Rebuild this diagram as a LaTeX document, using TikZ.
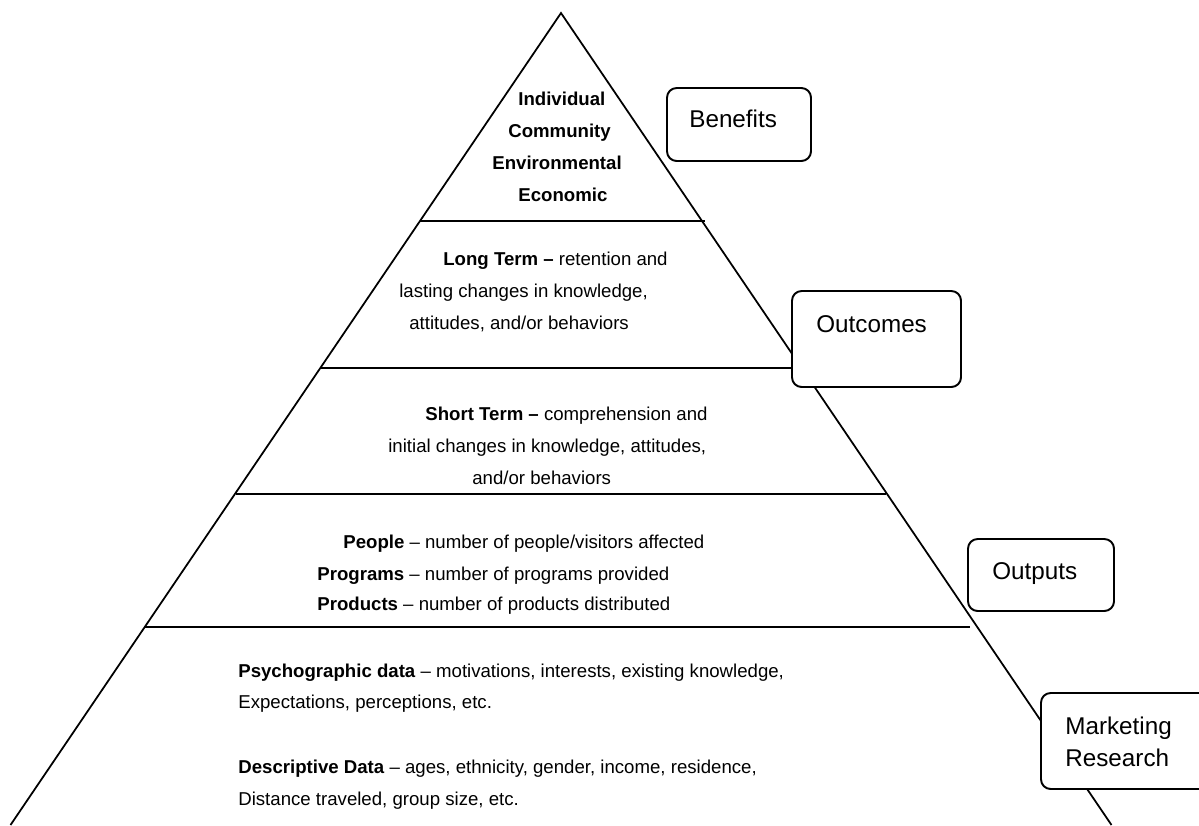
\documentclass[tikz,border=0pt]{standalone}
\usepackage{fontspec}
\setmainfont{Liberation Sans}
\usetikzlibrary{fit}
\begin{document}
\begin{tikzpicture}[x=0.02cm,y=-0.02cm,
  edge/.style={line width=1pt},
  tier/.style={font=\fontsize{10.6}{12}\selectfont, anchor=base west, inner sep=0pt},
  boxst/.style={draw, line width=1.1pt, rounded corners=5.5pt, fill=white, inner sep=0pt},
  lbl/.style={font=\fontsize{13.8}{16}\selectfont, anchor=base west, inner sep=0pt}]
\clip (0,0) rectangle (1199,825);
\fill[white] (0,0) rectangle (1199,825);
% pyramid
\coordinate (apex) at (561,13);
\coordinate (bl) at (10.5,825);
\coordinate (br) at (1111.5,825);
\draw[edge] (bl) -- (apex) -- (br);
\coordinate (l1a) at (420,221); \coordinate (l1b) at (705,221);
\coordinate (l2a) at (320,368); \coordinate (l2b) at (795,368);
\coordinate (l3a) at (236,494); \coordinate (l3b) at (886,494);
\coordinate (l4a) at (145,627); \coordinate (l4b) at (970,627);
\draw[edge] (l1a) -- (l1b);
\draw[edge] (l2a) -- (l2b);
\draw[edge] (l3a) -- (l3b);
\draw[edge] (l4a) -- (l4b);
% tier texts
\node[tier] (t1a) at (518,105) {\textbf{Individual}};
\node[tier] (t1b) at (508,137) {\textbf{Community}};
\node[tier] (t1c) at (492,169) {\textbf{Environmental}};
\node[tier] (t1d) at (518,201) {\textbf{Economic}};
\node[tier] (t2a) at (443,265) {\textbf{Long Term –} retention and};
\node[tier] (t2b) at (399,297) {lasting changes in knowledge,};
\node[tier] (t2c) at (409,329) {attitudes, and/or behaviors};
\node[tier] (t3a) at (425,420) {\textbf{Short Term –} comprehension and};
\node[tier] (t3b) at (388,452) {initial changes in knowledge, attitudes,};
\node[tier] (t3c) at (472,484) {and/or behaviors};
\node[tier] (t4a) at (343,548) {\textbf{People} – number of people/visitors affected};
\node[tier] (t4b) at (317,580) {\textbf{Programs} – number of programs provided};
\node[tier] (t4c) at (317,610) {\textbf{Products} – number of products distributed};
\node[tier] (t5a) at (238,677) {\textbf{Psychographic data} – motivations, interests, existing knowledge,};
\node[tier] (t5b) at (238,708) {Expectations, perceptions, etc.};
\node[tier] (t5c) at (238,773) {\textbf{Descriptive Data} – ages, ethnicity, gender, income, residence,};
\node[tier] (t5d) at (238,805) {Distance traveled, group size, etc.};
% side boxes
\node[boxst, fit={(667,88) (811,161)}] (benefits) {};
\node[lbl] (benefitsT) at (689,127) {Benefits};
\node[boxst, fit={(792,291) (961,387)}] (outcomes) {};
\node[lbl] (outcomesT) at (816,332) {Outcomes};
\node[boxst, fit={(968,539) (1114,611)}] (outputs) {};
\node[lbl] (outputsT) at (992,579) {Outputs};
\node[boxst, fit={(1041,693) (1215,789)}] (market) {};
\node[lbl] (marketT1) at (1065,734) {Marketing};
\node[lbl] (marketT2) at (1065,766) {Research};
\end{tikzpicture}
\end{document}
